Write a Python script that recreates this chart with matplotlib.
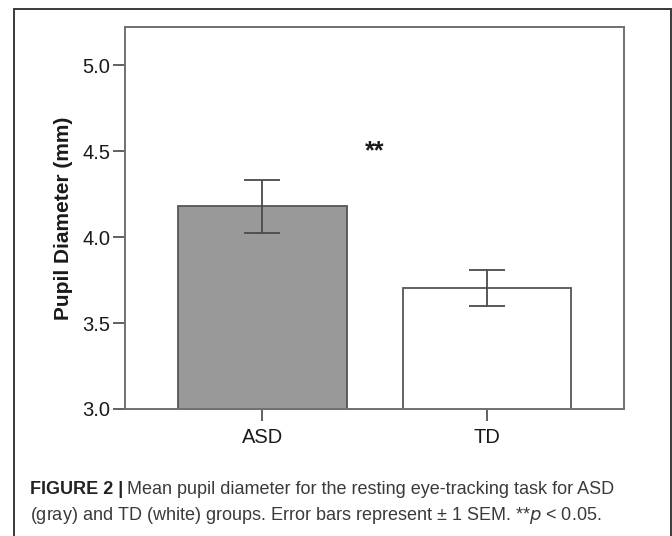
import matplotlib.pyplot as plt
import matplotlib.patches as mpatches

plt.rcParams["font.family"] = ["Liberation Sans", "DejaVu Sans"]

# data
groups = ["ASD", "TD"]
means = [4.18, 3.705]
sem_lower = [0.153, 0.108]
sem_upper = [0.155, 0.107]
bar_colors = ["#999999", "#ffffff"]
yticks = [3.0, 3.5, 4.0, 4.5, 5.0]
sig_label = "**"

W, H = 672, 536
fig = plt.figure(figsize=(W / 100, H / 100), dpi=100)

# outer frame of the figure panel (bottom edge is cut off)
frame = mpatches.Rectangle(
    (13.5 / W, -0.05), (670.5 - 13.5) / W, 1.05 - 9 / H,
    transform=fig.transFigure, fill=False, edgecolor="#3a3a3a", lw=1.4,
)
fig.patches.append(frame)

ax = fig.add_axes([125 / W, 1 - 409 / H, (624.3 - 125) / W, (409 - 27.3) / H])
x = list(range(len(groups)))
ax.bar(x, means, width=0.75, color=bar_colors, edgecolor="#555555",
       linewidth=1.3, zorder=2)
ax.errorbar(x, means, yerr=[sem_lower, sem_upper], fmt="none",
            ecolor="#4a4a4a", elinewidth=1.3, capsize=12.8, capthick=1.3,
            zorder=3)

ax.set_xlim(-0.612, 1.612)
ax.set_ylim(3.0, 5.222)
ax.set_yticks(yticks)
ax.set_yticklabels([f"{v:.1f}" for v in yticks])
ax.set_xticks(x)
ax.set_xticklabels(groups)

for s in ax.spines.values():
    s.set_color("#707070")
    s.set_linewidth(1.4)
ax.tick_params(axis="both", direction="out", length=8.6, width=1.3,
               color="#555555", labelsize=14.5, pad=2, labelcolor="#1a1a1a")
ax.tick_params(axis="x", pad=5)

ax.set_ylabel("Pupil Diameter (mm)", fontsize=15, fontweight="bold",
              labelpad=7, color="#1a1a1a")

ax.text(0.5, 4.50, sig_label, ha="center", va="center", fontsize=18,
        fontweight="bold", color="#1a1a1a")

# caption
cap_bold = fig.text(30 / W, 1 - 489 / H, "FIGURE 2 |", fontsize=13,
                    fontweight="bold", va="center", ha="left", color="#222222")
fig.canvas.draw()
bb = cap_bold.get_window_extent()
fig.text((bb.x1 + 4) / W, 1 - 489 / H,
         "Mean pupil diameter for the resting eye-tracking task for ASD",
         fontsize=13, va="center", ha="left", color="#3a3a3a")
fig.text(30 / W, 1 - 515 / H,
         "(gray) and TD (white) groups. Error bars represent \u00b1 1 SEM. **$p$ < 0.05.",
         fontsize=13, va="center", ha="left", color="#3a3a3a")

fig.savefig("out.png", dpi=100)
